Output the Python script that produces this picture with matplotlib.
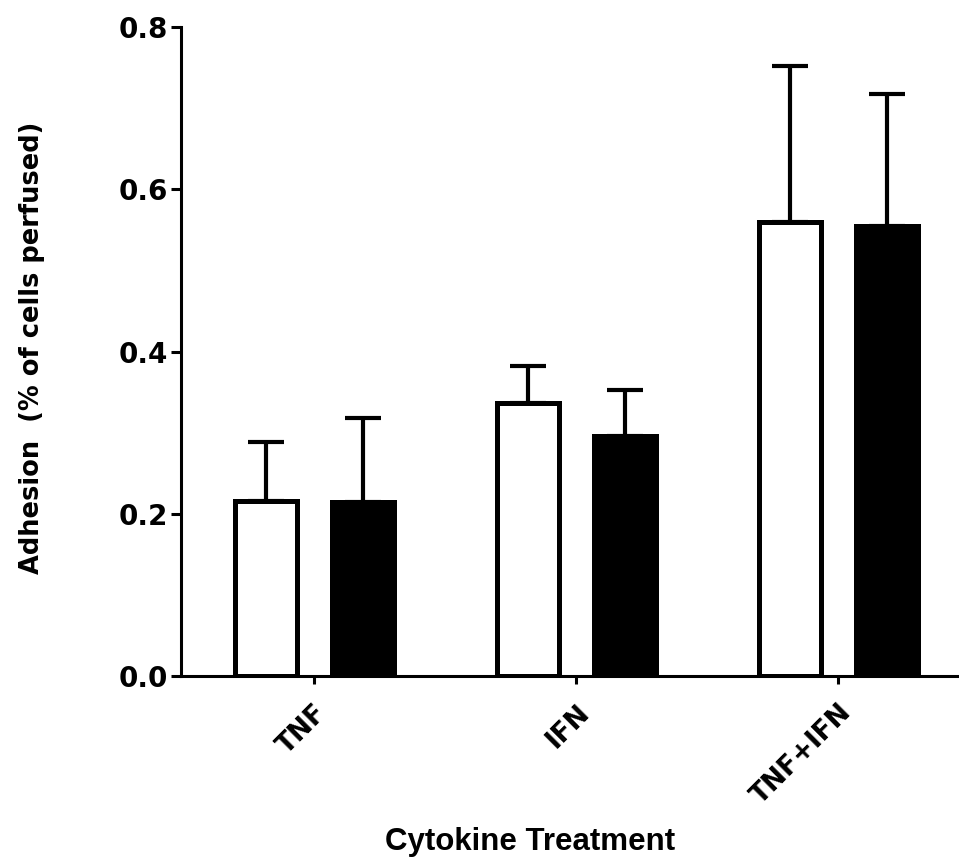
import matplotlib
matplotlib.use("Agg")
import matplotlib.pyplot as plt
import matplotlib.transforms as mtransforms
import numpy as np

# Adhesion data per cytokine treatment (two conditions: open vs filled bars)
categories = ["TNF", "IFN", "TNF+IFN"]
open_means = [0.216, 0.336, 0.560]
open_upper = [0.289, 0.3825, 0.752]
filled_means = [0.215, 0.296, 0.555]
filled_upper = [0.318, 0.3525, 0.717]
y_ticks = [0.0, 0.2, 0.4, 0.6, 0.8]
y_tick_labels = ["0.0", "0.2", "0.4", "0.6", "0.8"]

plt.rcParams["font.family"] = ["DejaVu Sans"]
plt.rcParams["font.weight"] = "bold"

fig = plt.figure(figsize=(9.59, 8.61), dpi=100)
ax = fig.add_axes([0.1887, 0.2149, 0.8113, 0.7537])

x = np.arange(len(categories))
width = 0.237
offset = 0.185

open_err = [np.zeros(len(categories)), np.array(open_upper) - np.array(open_means)]
filled_err = [np.zeros(len(categories)), np.array(filled_upper) - np.array(filled_means)]

err_kw = dict(elinewidth=3.0, capthick=3.0, ecolor="black")
ax.bar(x - offset, open_means, width, color="white", edgecolor="black",
       linewidth=3.6, yerr=open_err, capsize=13, error_kw=err_kw, zorder=2)
ax.bar(x + offset, filled_means, width, color="black", edgecolor="black",
       linewidth=3.6, yerr=filled_err, capsize=13, error_kw=err_kw, zorder=2)

ax.set_xlim(-0.508, 2.46)
ax.set_ylim(0, 0.8)
ax.set_yticks(y_ticks)
ax.set_yticklabels(y_tick_labels, fontsize=20, fontweight="bold")
ax.set_xticks(x)
ax.set_xticklabels(categories, rotation=45, ha="right", rotation_mode="anchor",
                   fontsize=19, fontweight="bold")

# nudge the rotated category labels slightly left
shift = mtransforms.ScaledTranslation(-4 / 72, 0, fig.dpi_scale_trans)
for lbl in ax.get_xticklabels():
    lbl.set_transform(lbl.get_transform() + shift)

for side in ("top", "right"):
    ax.spines[side].set_visible(False)
for side in ("left", "bottom"):
    ax.spines[side].set_linewidth(2.2)
ax.spines["left"].set_bounds(0, 0.8)
ax.tick_params(axis="both", direction="out", length=7, width=2.2)
ax.tick_params(axis="y", pad=2)
ax.tick_params(axis="x", length=6, pad=11)

ax.set_ylabel("Adhesion  (% of cells perfused)", fontsize=18.5, fontweight="bold")
ax.set_xlabel("Cytokine Treatment", fontsize=22.5, fontweight="bold",
              family=["Liberation Sans", "DejaVu Sans"])
ax.yaxis.set_label_coords(-0.175, 0.505)
ax.xaxis.set_label_coords(0.449, -0.232)

fig.savefig("out.png", dpi=100)
